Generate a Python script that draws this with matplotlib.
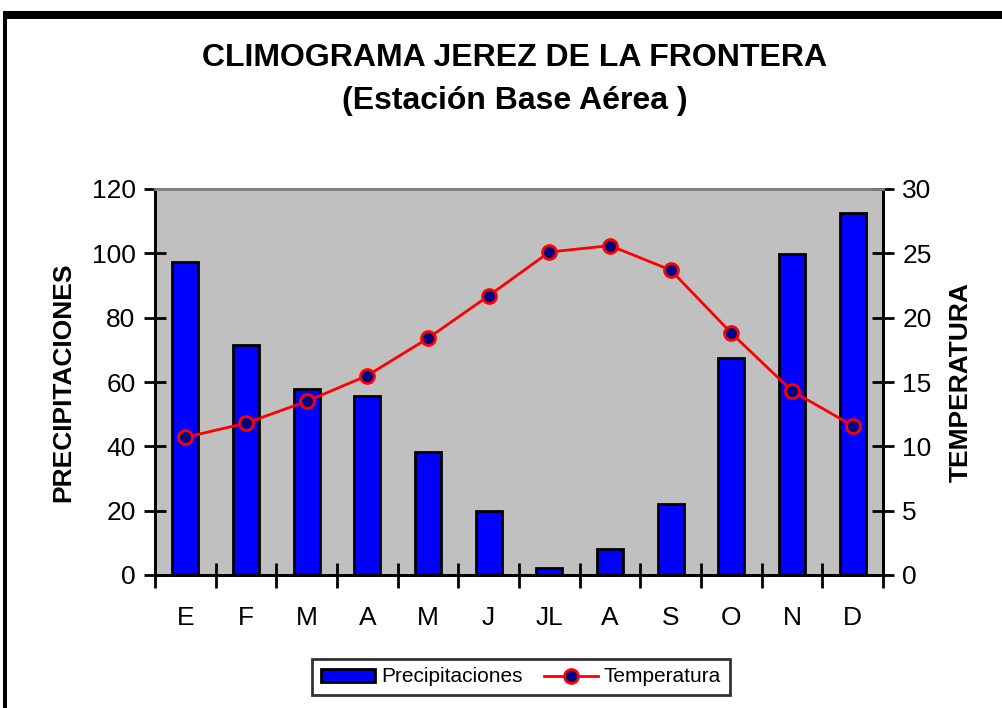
import numpy as np
import matplotlib.pyplot as plt
from matplotlib.patches import Rectangle
from matplotlib.lines import Line2D

plt.rcParams['font.family'] = ['Liberation Sans', 'DejaVu Sans']

# Datos del climograma
meses = ["E", "F", "M", "A", "M", "J", "JL", "A", "S", "O", "N", "D"]
precipitaciones = [97.3, 71.5, 57.8, 55.6, 38.2, 19.9, 2.2, 8.1, 22.1, 67.5, 99.8, 112.5]
temperatura = [10.7, 11.8, 13.5, 15.5, 18.4, 21.7, 25.1, 25.6, 23.7, 18.8, 14.3, 11.6]

fig = plt.figure(figsize=(10.03, 7.08), dpi=100)

# Marco negro grueso (cortado a la derecha y abajo)
fig.patches.append(Rectangle((3 / 1003, 0), 4 / 1003, 1 - 11 / 708, transform=fig.transFigure,
                             facecolor="black", edgecolor="none"))
fig.patches.append(Rectangle((3 / 1003, 1 - 19 / 708), 1, 8 / 708, transform=fig.transFigure,
                             facecolor="black", edgecolor="none"))

ax = fig.add_axes([155 / 1003, 1 - 575 / 708, 728 / 1003, 386 / 708])
ax.set_facecolor("#C0C0C0")
x = np.arange(len(meses))

ax.bar(x, precipitaciones, width=0.43, color="#0000FF", edgecolor="black", linewidth=2, zorder=2)
ax.set_xlim(-0.5, len(meses) - 0.5)
ax.set_ylim(0, 120)
ax.set_yticks(np.arange(0, 121, 20))
ax.set_xticks(x)
ax.set_xticklabels(meses)
ax.set_xticks(np.arange(-0.5, len(meses)), minor=True)
ax.tick_params(axis="x", which="major", length=0, labelsize=19, pad=22)
ax.tick_params(axis="x", which="minor", direction="inout", length=18, width=2)
ax.tick_params(axis="y", direction="inout", length=16, width=2, labelsize=19, pad=6)
ax.set_ylabel("PRECIPITACIONES", fontsize=19, fontweight="bold", labelpad=12)

ax2 = ax.twinx()
ax2.plot(x, temperatura, color="red", linewidth=2, marker="o", markersize=10,
         markerfacecolor="#000080", markeredgecolor="red", markeredgewidth=2, zorder=3)
ax2.set_ylim(0, 30)
ax2.set_yticks(np.arange(0, 31, 5))
ax2.tick_params(axis="y", direction="inout", length=16, width=2, labelsize=19, pad=6)
ax2.set_ylabel("TEMPERATURA", fontsize=19, fontweight="bold", rotation=90, labelpad=12)

for a in (ax, ax2):
    a.spines["top"].set_color("#808080")
    a.spines["top"].set_linewidth(2)
    a.spines["left"].set_linewidth(2)
    a.spines["right"].set_linewidth(2)
    a.spines["bottom"].set_linewidth(2)

fig.text(515 / 1003, 1 - 58 / 708, "CLIMOGRAMA JEREZ DE LA FRONTERA", ha="center", va="center",
         fontsize=23, fontweight="bold")
fig.text(515 / 1003, 1 - 101 / 708, "(Estación Base Aérea )", ha="center", va="center",
         fontsize=23, fontweight="bold")

handles = [Rectangle((0, 0), 1, 1, facecolor="#0000FF", edgecolor="black", linewidth=2),
           Line2D([], [], color="red", linewidth=2, marker="o", markersize=10,
                  markerfacecolor="#000080", markeredgecolor="red", markeredgewidth=2)]
leg = fig.legend(handles, ["Precipitaciones", "Temperatura"], loc="center",
                 bbox_to_anchor=(521 / 1003, 1 - 677 / 708), ncol=2, fontsize=15,
                 frameon=True, fancybox=False, edgecolor="black", handlelength=2.6,
                 handleheight=0.6, columnspacing=1.0, handletextpad=0.3, borderpad=0.4)
leg.get_frame().set_linewidth(2)

fig.savefig("out.png", dpi=100)
